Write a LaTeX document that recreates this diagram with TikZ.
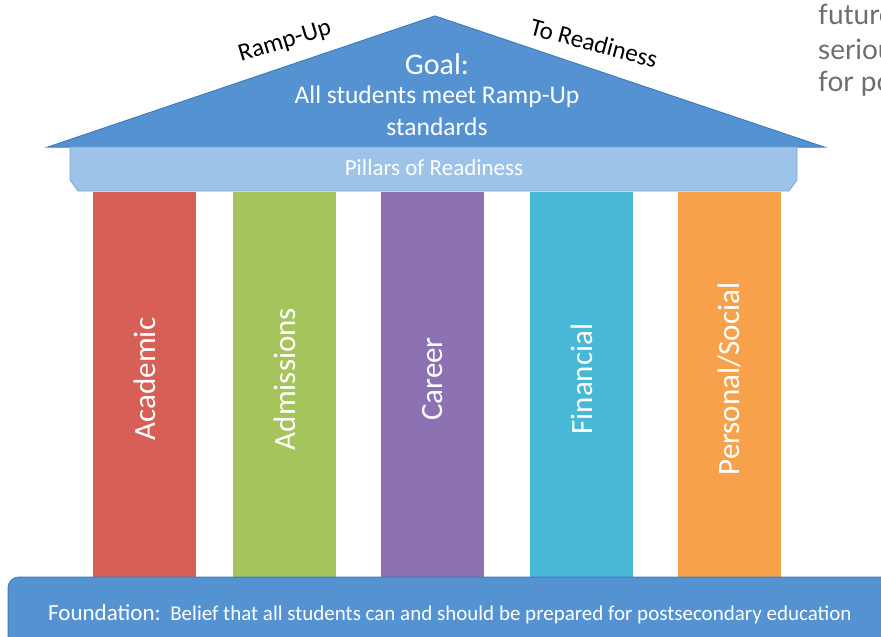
\documentclass[tikz,border=0pt]{standalone}
\usepackage{fontspec}
\setmainfont{Carlito}
\newfontfamily\pagefont{Lato}
\usepackage{tikz}
\usetikzlibrary{positioning, calc}

\definecolor{roofblue}{HTML}{5592D2}
\definecolor{roofedge}{HTML}{3F7DBE}
\definecolor{bandblue}{HTML}{9DC3E8}
\definecolor{bandedge}{HTML}{7FAAD6}
\definecolor{academic}{HTML}{D75F58}
\definecolor{admissions}{HTML}{A6C45C}
\definecolor{career}{HTML}{8C72B2}
\definecolor{financial}{HTML}{47B9D6}
\definecolor{personal}{HTML}{F7A24A}
\definecolor{pagegray}{HTML}{6E6E6E}

\tikzset{
	pillarlabel/.style={rotate=90, text=white, font=\fontsize{31}{36}\selectfont},
	rooflabel/.style={text=black, inner sep=0pt, font=\fontsize{25}{28}\selectfont},
	goaltext/.style={text=white, inner sep=1pt, font=\fontsize{25.5}{30}\selectfont},
	pagetext/.style={anchor=base west, inner sep=0pt, text=pagegray, font=\pagefont\fontsize{28}{32}\selectfont}
}

\begin{document}
\begin{tikzpicture}[x=1pt, y=-1pt]
	
	\useasboundingbox (0,0) rectangle (881,637);
	\clip (0,0) rectangle (881,637);
	
	%//roof
	\draw[draw=roofedge, fill=roofblue, line width=1pt] (48,147) -- (435,16) -- (824,147) -- cycle;
	\node[rooflabel, rotate=17] (rampup) at (285,42) {Ramp-Up};
	\node[rooflabel, rotate=-15] (toready) at (594,43) {To Readiness};
	\node[goaltext, font=\fontsize{30}{34}\selectfont] (goal) at (437,64) {Goal:};
	\node[goaltext] (meet) at (437,97) {All students meet Ramp-Up};
	\node[goaltext] (standards) at (437,127) {standards};
	
	%//band
	\draw[draw=bandedge, fill=bandblue, line width=0.8pt] (70,147) -- (797,147) -- (797,180) -- (789,191) -- (78,191) -- (70,180) -- cycle;
	\node[text=white, font=\fontsize{23}{28}\selectfont] (pillars) at (434,168) {Pillars of Readiness};
	
	%//pillars
	\foreach \x/\col/\val in {93/academic/Academic, 233/admissions/Admissions, 381/career/Career, 530/financial/Financial, 678/personal/Personal\slash Social}
	{
		\fill[\col] (\x,192) rectangle (\x+103,590);
		\node[pillarlabel] (\col) at (\x+51.5,379) {\val};
	}
	
	%//foundation
	\draw[draw=roofedge, fill=roofblue, line width=1pt, rounded corners=11pt] (8,577) rectangle (920,680);
	\node[anchor=base west, text=white, inner sep=0pt, font=\fontsize{21}{24}\selectfont] (foundation) at (48,620) {{\fontsize{23}{26}\selectfont Foundation:}\ \ Belief that all students can and should be prepared for postsecondary education};
	
	%//page text
	\node[pagetext] (line1) at (818,24) {future};
	\node[pagetext] (line2) at (818,59) {serious};
	\node[pagetext] (line3) at (818,91) {for post};
	
\end{tikzpicture}
\end{document}
